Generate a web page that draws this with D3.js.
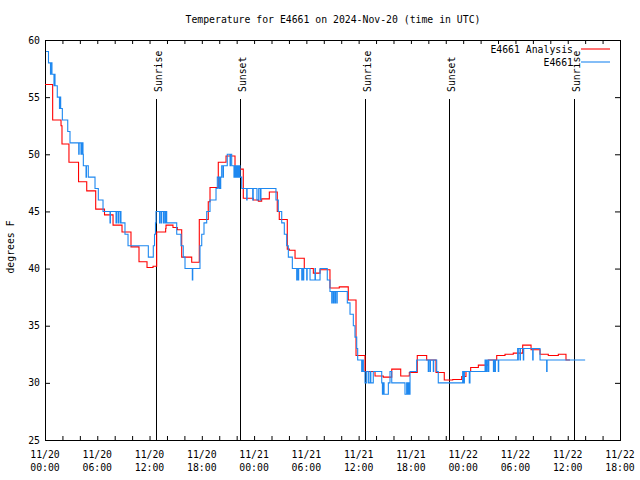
<!DOCTYPE html>
<html><head><meta charset="utf-8">
<script src="https://cdn.jsdelivr.net/npm/d3@7"></script>
<style>body{margin:0;background:#fff}svg{display:block}text{font-family:"DejaVu Sans Mono",monospace;font-size:9.8px;fill:#000}</style>
</head><body>
<script>
// hours since 2024-11-20 00:00 UTC
const analysisHours=[0,0.88,1.84,1.95,2.75,3.85,4.79,5.82,6.83,7.81,8.84,9.87,10.79,11.71,12.40,12.82,13.85,13.89,14.69,15.19,15.69,16.84,17.71,18.74,18.94,19.89,20.78,21.81,22.76,23.91,24.49,24.87,25.75,26.66,26.89,27.81,28.04,28.70,29.76,30.80,31.57,32.71,33.78,34.81,35.70,36.73,37.88,38.83,39.80,40.83,41.82,42.73,43.81,44.88,45.83,46.80,47.83,48.32,48.86,49.74,50.88,51.85,52.80,53.75,54.83,55.79,56.82,57.77,58.92,59.80,60.26];
const analysisTemps=[56.1,53.0,52.5,50.9,49.3,47.6,46.8,45.2,44.7,43.8,43.2,41.9,40.6,40.1,40.2,43.2,43.5,43.8,43.6,43.4,41.0,40.55,44.3,45.85,47.1,49.3,49.85,48.7,46.15,46.0,45.9,46.1,46.7,45.0,44.3,41.7,41.6,40.9,40.0,39.6,39.9,38.3,38.4,37.25,32.4,31.0,30.6,30.5,31.2,30.6,30.9,32.4,32.0,30.9,30.25,30.3,30.55,31.0,31.35,31.55,32.0,32.4,32.5,32.6,33.3,32.9,32.5,32.4,32.5,32.0,32.0];
const obsHours=[0.11,0.40,0.63,0.67,0.80,1.03,1.08,1.15,1.41,1.66,1.70,1.80,1.99,2.61,2.87,3.87,3.92,4.13,4.20,4.25,4.30,4.36,4.40,4.71,4.76,4.97,5.74,6.12,6.66,7.46,7.51,8.15,8.20,8.38,8.43,8.61,8.66,8.72,9.18,9.53,11.86,12.43,12.57,12.68,12.74,13.15,13.20,13.35,13.40,13.61,13.66,13.80,13.85,13.97,15.12,15.61,15.87,16.07,16.91,16.96,17.79,17.99,18.25,18.56,18.94,19.63,19.78,19.95,20.0,20.12,20.17,20.28,20.43,20.48,20.92,21.24,21.29,21.43,21.69,21.75,21.86,21.92,22.04,22.12,22.2,22.27,22.38,22.58,23.15,23.2,23.84,23.9,24.33,24.53,24.71,24.79,26.51,26.78,27.17,27.47,27.74,27.93,28.39,28.89,28.94,29.07,29.12,29.47,29.52,29.65,29.7,30.04,30.09,30.42,30.99,31.04,31.57,32.40,32.71,32.91,32.96,33.10,33.15,33.29,33.34,33.49,33.54,34.70,35.01,35.39,35.58,35.78,35.89,36.35,36.44,36.54,36.73,36.92,37.12,37.31,37.40,37.68,38.65,38.73,38.84,38.92,39.41,39.60,39.80,41.32,41.51,41.60,41.70,41.78,41.90,42.66,43.99,44.04,44.19,44.24,44.57,44.62,44.96,45.14,47.94,48.05,48.14,48.70,48.78,50.51,50.60,50.65,50.70,50.75,50.89,50.94,51.47,51.52,51.65,51.70,52.03,52.08,54.25,54.30,54.33,54.52,54.57,54.90,54.95,55.98,56.03,56.82,57.58,57.63,62.0];
const obsTemps=[59,58,57,58,57,56,57,56,55,54,55,54,53,52,51,50,51,50,51,50,51,50,49,48,49,48,47,46,45,44,45,44,45,44,45,44,45,44,43,42,41,42,43,44,45,44,45,44,45,44,45,44,45,44,43,42,41,40,39,40,42,43,44,45,46,47,48,47,48,47,48,49,48,49,50,49,50,49,48,49,48,49,48,49,48,49,48,47,46,47,46,47,46,47,46,47,46,45,44,43,42,41,40,39,40,39,40,39,40,39,40,39,40,39,40,39,40,39,38,37,38,37,38,37,38,37,38,37,36,35,34,33,32,31,32,31,30,31,30,31,30,31,30,29,30,29,30,31,30,29,30,29,30,29,31,32,31,32,31,32,31,32,31,30,31,30,31,30,31,32,31,32,31,32,31,32,31,32,31,32,31,32,33,32,33,32,33,32,33,32,33,32,31,32,32];
const eventHours=[12.74,22.38,36.77,46.41,60.75];
const eventLabels=["Sunrise","Sunset","Sunrise","Sunset","Sunrise"];
const tickHours=[0,6,12,18,24,30,36,42,48,54,60,66];
const tickDates=["11/20","11/20","11/20","11/20","11/21","11/21","11/21","11/21","11/22","11/22","11/22","11/22"];
const tickTimes=["00:00","06:00","12:00","18:00","00:00","06:00","12:00","18:00","00:00","06:00","12:00","18:00"];
const yTicks=[25,30,35,40,45,50,55,60];
const seriesNames=["E4661 Analysis","E4661"];
const seriesColors=["#ff0000","#1e88f0"];

const L=45,R=620,T=40,B=440;
const svg=d3.select("body").append("svg").attr("width",640).attr("height",480);
const x=d3.scaleLinear().domain([0,66]).range([L,R]);
const y=d3.scaleLinear().domain([25,60]).range([B,T]);

svg.append("text").attr("x",333).attr("y",23).attr("text-anchor","middle").text("Temperature for E4661 on 2024-Nov-20 (time in UTC)");

const minor=d3.range(0,67,2);
svg.append("g").attr("transform",`translate(0,${B})`).call(d3.axisBottom(x).tickValues(minor).tickSize(-4).tickFormat("")).call(g=>g.select(".domain").remove());
svg.append("g").attr("transform",`translate(0,${T})`).call(d3.axisTop(x).tickValues(minor).tickSize(-4).tickFormat("")).call(g=>g.select(".domain").remove());
svg.append("g").attr("transform",`translate(${L},0)`).call(d3.axisLeft(y).tickValues(yTicks).tickSize(-5).tickPadding(5)).call(g=>g.select(".domain").remove()).call(g=>g.selectAll("text").style("font-family","DejaVu Sans Mono").style("font-size","9.8px"));
svg.append("g").attr("transform",`translate(${R},0)`).call(d3.axisRight(y).tickValues(yTicks).tickSize(-5).tickFormat("")).call(g=>g.select(".domain").remove());
svg.selectAll(".tick line").attr("stroke","#000");

const xl=svg.append("g").selectAll("text").data(tickHours).join("text").attr("text-anchor","middle");
xl.append("tspan").attr("x",d=>x(d)).attr("y",458).text((d,i)=>tickDates[i]);
xl.append("tspan").attr("x",d=>x(d)).attr("y",471).text((d,i)=>tickTimes[i]);

svg.append("text").attr("transform","translate(14,247) rotate(-90)").attr("text-anchor","middle").text("degrees F");

svg.append("rect").attr("x",L+0.5).attr("y",T+0.5).attr("width",R-L).attr("height",B-T).attr("fill","none").attr("stroke","#000");

eventHours.forEach((h,i)=>{
  const xx=Math.round(x(h))+0.5;
  svg.append("line").attr("x1",xx).attr("x2",xx).attr("y1",99).attr("y2",B).attr("stroke","#000").attr("stroke-width",1);
  svg.append("text").attr("transform",`translate(${xx+5},92) rotate(-90)`).text(eventLabels[i]);
});

const line=d3.line().curve(d3.curveStepAfter).x(d=>x(d[0])).y(d=>y(d[1]));
svg.append("path").datum(analysisHours.map((h,i)=>[h,analysisTemps[i]])).attr("d",line).attr("fill","none").attr("stroke",seriesColors[0]).attr("stroke-width",1.1);
svg.append("path").datum(obsHours.map((h,i)=>[h,obsTemps[i]])).attr("d",line).attr("fill","none").attr("stroke",seriesColors[1]).attr("stroke-width",1.1);

seriesNames.forEach((n,i)=>{
  const yy=49+i*13;
  svg.append("text").attr("x",573).attr("y",yy+3.5).attr("text-anchor","end").text(n);
  svg.append("line").attr("x1",581).attr("x2",610).attr("y1",yy).attr("y2",yy).attr("stroke",seriesColors[i]).attr("stroke-width",1.1);
});
</script>
</body></html>
